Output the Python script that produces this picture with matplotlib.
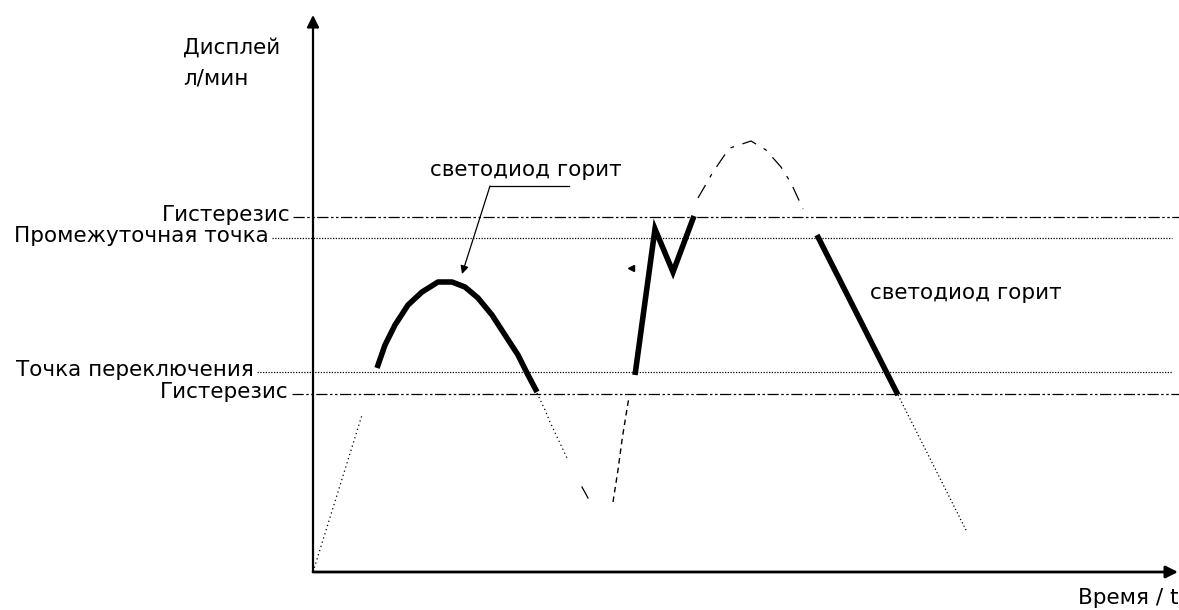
import matplotlib.pyplot as plt

# schematic drawn in picture coordinates (x right, y down)
origin = (313, 572)
y_top = 15
x_end = 1178

# threshold levels: name, y level, label right edge, line style
levels = ["Гистерезис", "Промежуточная точка", "Точка переключения", "Гистерезис"]
level_y = [217, 238, 372, 394]
level_x0 = [293, 272, 257, 292]
level_ls = ["dashdot", "dotted", "dotted", "dashdot"]

# curve pieces
rise_x = [313, 362]
rise_y = [572, 415]

arc_x = [377, 385, 395, 408, 422, 438, 452, 465, 478, 492, 505, 518, 528, 537]
arc_y = [368, 345, 325, 305, 292, 282, 282, 287, 298, 315, 335, 355, 375, 392]

fall_x = [537, 545, 550, 567]
fall_y = [393, 410, 422, 458]
dip_x = [582, 588]
dip_y = [487, 498]

up_x = [613, 618, 622, 626, 629]
up_y = [502, 470, 440, 415, 397]

n_x = [635, 655, 673, 694]
n_y = [375, 229, 272, 216]

top_x = [698, 713, 726, 730, 751, 766, 781, 791, 803]
top_y = [198, 172, 153, 148, 141, 150, 167, 183, 209]

down_x = [817, 898]
down_y = [235, 395]
tail_x = [898, 967]
tail_y = [395, 532]


def main():
    fig = plt.figure(figsize=(11.79, 6.10), dpi=100)
    ax = fig.add_axes([0, 0, 1, 1])
    ax.set_xlim(0, 1179)
    ax.set_ylim(610, 0)
    ax.axis("off")
    plt.rcParams["font.family"] = ["DejaVu Sans"]
    fs = 15.5

    # axes with arrows
    ax.annotate("", xy=(origin[0], y_top), xytext=origin,
                arrowprops=dict(arrowstyle="-|>", color="black", lw=1.6,
                                mutation_scale=18, shrinkA=0, shrinkB=0))
    ax.annotate("", xy=(x_end, origin[1]), xytext=origin,
                arrowprops=dict(arrowstyle="-|>", color="black", lw=2.0,
                                mutation_scale=18, shrinkA=0, shrinkB=0))

    # threshold lines
    for name, y, x0, ls in zip(levels, level_y, level_x0, level_ls):
        if ls == "dashdot":
            ax.plot([x0, 1179], [y, y], color="black", lw=0.9,
                    dashes=(9, 2, 2, 2, 2, 2))
        else:
            ax.plot([x0, 1172], [y, y], color="black", lw=0.9,
                    dashes=(1, 1.2))
        ax.text(x0 - 3, y - 2, name, ha="right", va="center", fontsize=fs)

    # curve
    ax.plot(rise_x, rise_y, color="black", lw=0.9, dashes=(1, 2.5))
    ax.plot(arc_x, arc_y, color="black", lw=4, solid_capstyle="butt",
            solid_joinstyle="round")
    ax.plot(fall_x, fall_y, color="black", lw=0.9, dashes=(1, 2.5))
    ax.plot(dip_x, dip_y, color="black", lw=0.9)
    ax.plot(up_x, up_y, color="black", lw=1.0, dashes=(4, 3))
    ax.plot(n_x, n_y, color="black", lw=4, solid_joinstyle="miter",
            solid_capstyle="butt")
    ax.plot(top_x, top_y, color="black", lw=0.9, dashes=(12, 7, 3, 7))
    ax.plot(down_x, down_y, color="black", lw=4, solid_capstyle="butt")
    ax.plot(tail_x, tail_y, color="black", lw=0.9, dashes=(1, 2))
    ax.plot([631], [268], marker="<", color="black", markersize=5)

    # texts
    ax.text(183, 48, "Дисплей", fontsize=fs, va="center")
    ax.text(183, 78, "л/мин", fontsize=fs, va="center")
    ax.text(1179, 598, "Время / t", fontsize=fs, va="center", ha="right")
    ax.text(430, 170, "светодиод горит", fontsize=fs, va="center")
    ax.text(870, 293, "светодиод горит", fontsize=fs, va="center")

    # leader to the first lit segment
    ax.plot([569, 490], [186, 186], color="black", lw=0.9)
    ax.annotate("", xy=(462, 274), xytext=(490, 186),
                arrowprops=dict(arrowstyle="-|>", color="black", lw=0.9,
                                mutation_scale=12, shrinkA=0, shrinkB=0))

    fig.savefig("out.png", dpi=100)


if __name__ == "__main__":
    main()
